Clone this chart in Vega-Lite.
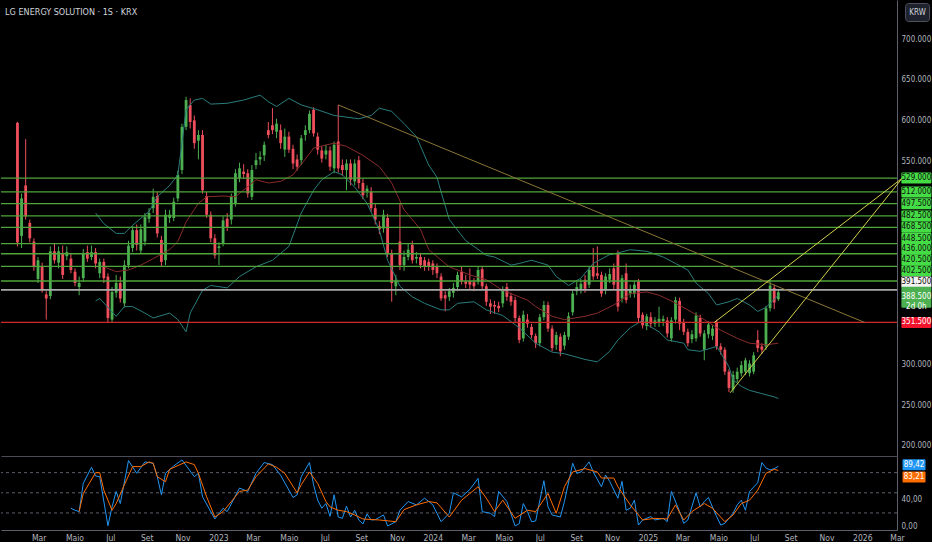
{
  "$schema": "https://vega.github.io/schema/vega-lite/v6.json",
  "background": "#000000",
  "padding": 0,
  "spacing": 0,
  "config": {
    "view": {"stroke": null},
    "axis": {"grid": false, "ticks": false, "labelColor": "#b2b5be", "labelFont": "Liberation Sans Narrow, DejaVu Sans Condensed, Roboto, sans-serif", "labelFontSize": 8, "labelFlush": false, "title": null}
  },
  "resolve": {"scale": {"x": "independent", "y": "independent"}},
  "datasets": {
    "w": [
      {"d":"2022-01-24","o":597,"h":598,"l":445,"c":450},
      {"d":"2022-01-31","o":458,"h":510,"l":443,"c":504},
      {"d":"2022-02-07","o":520,"h":577,"l":478,"c":482},
      {"d":"2022-02-14","o":474,"h":478,"l":450,"c":455},
      {"d":"2022-02-21","o":451,"h":455,"l":415,"c":420},
      {"d":"2022-02-28","o":405,"h":432,"l":400,"c":428},
      {"d":"2022-03-07","o":420,"h":425,"l":388,"c":391},
      {"d":"2022-03-14","o":386,"h":390,"l":355,"c":381},
      {"d":"2022-03-21","o":384,"h":445,"l":380,"c":439},
      {"d":"2022-03-28","o":439,"h":448,"l":424,"c":428},
      {"d":"2022-04-04","o":425,"h":445,"l":418,"c":439},
      {"d":"2022-04-11","o":437,"h":446,"l":405,"c":410},
      {"d":"2022-04-18","o":433,"h":445,"l":428,"c":438},
      {"d":"2022-04-25","o":430,"h":436,"l":412,"c":416,"k":27},
      {"d":"2022-05-02","o":414,"h":418,"l":396,"c":400,"k":24},
      {"d":"2022-05-09","o":395,"h":408,"l":385,"c":400,"k":22,"dd":22},
      {"d":"2022-05-16","o":406,"h":442,"l":402,"c":437,"k":64,"dd":49},
      {"d":"2022-05-23","o":438,"h":446,"l":426,"c":430},
      {"d":"2022-05-30","o":432,"h":446,"l":428,"c":438,"k":88},
      {"d":"2022-06-06","o":438,"h":443,"l":418,"c":424,"k":75,"dd":80,"u":486,"b":378},
      {"d":"2022-06-13","o":412,"h":430,"l":406,"c":426,"k":74,"dd":80,"b":381},
      {"d":"2022-06-20","o":426,"h":430,"l":400,"c":406,"dd":54,"u":473,"m":420},
      {"d":"2022-06-27","o":408,"h":412,"l":352,"c":357,"k":1},
      {"d":"2022-07-04","o":355,"h":395,"l":352,"c":389,"k":29,"dd":24},
      {"d":"2022-07-11","o":388,"h":410,"l":382,"c":400,"k":52,"dd":34,"u":461,"b":359,"m":414},
      {"d":"2022-07-18","o":400,"h":408,"l":376,"c":381,"k":34},
      {"d":"2022-07-25","o":375,"h":428,"l":370,"c":422,"dd":62,"u":461,"b":371},
      {"d":"2022-08-01","o":422,"h":452,"l":418,"c":446,"k":98,"m":416},
      {"d":"2022-08-08","o":443,"h":470,"l":438,"c":465,"dd":89,"u":471,"b":371},
      {"d":"2022-08-15","o":465,"h":472,"l":440,"c":447,"k":79},
      {"d":"2022-08-22","o":440,"h":472,"l":436,"c":466,"dd":89,"m":422},
      {"d":"2022-08-29","o":451,"h":486,"l":446,"c":481,"k":96,"b":363},
      {"d":"2022-09-05","o":479,"h":492,"l":474,"c":486,"dd":96,"u":488},
      {"d":"2022-09-12","o":492,"h":516,"l":486,"c":506,"k":94,"dd":94,"b":357,"m":430},
      {"d":"2022-09-19","o":507,"h":512,"l":456,"c":461,"k":74,"dd":74,"u":506},
      {"d":"2022-09-26","o":453,"h":458,"l":420,"c":426,"k":47},
      {"d":"2022-10-03","o":428,"h":490,"l":422,"c":484,"k":79,"dd":66.5},
      {"d":"2022-10-10","o":480,"h":490,"l":474,"c":484,"dd":85,"u":520,"b":363,"m":441},
      {"d":"2022-10-17","o":480,"h":505,"l":476,"c":500,"k":90},
      {"d":"2022-10-24","o":504,"h":538,"l":500,"c":533,"u":533,"b":355,"m":451},
      {"d":"2022-10-31","o":539,"h":596,"l":534,"c":592,"k":99,"u":572},
      {"d":"2022-11-07","o":592,"h":629,"l":588,"c":625,"dd":96,"u":613,"b":340,"m":475},
      {"d":"2022-11-14","o":619,"h":627,"l":590,"c":598,"b":363},
      {"d":"2022-11-21","o":600,"h":606,"l":565,"c":572,"k":74,"dd":92,"u":625},
      {"d":"2022-11-28","o":575,"h":588,"l":552,"c":582,"k":79,"dd":79,"m":498},
      {"d":"2022-12-05","o":582,"h":588,"l":510,"c":514,"k":44,"u":627,"b":391},
      {"d":"2022-12-12","o":507,"h":512,"l":480,"c":484,"dd":44,"m":506},
      {"d":"2022-12-19","o":484,"h":488,"l":450,"c":455,"u":620,"b":397},
      {"d":"2022-12-26","o":455,"h":460,"l":430,"c":434,"k":11,"dd":14},
      {"d":"2023-01-02","o":443,"h":450,"l":422,"c":445},
      {"d":"2023-01-09","o":449,"h":482,"l":445,"c":477,"k":27,"dd":22,"m":507},
      {"d":"2023-01-16","o":479,"h":486,"l":464,"c":469,"k":22,"u":621,"b":394},
      {"d":"2023-01-23","o":478,"h":510,"l":472,"c":506},
      {"d":"2023-01-30","o":498,"h":540,"l":494,"c":535,"m":506},
      {"d":"2023-02-06","o":529,"h":548,"l":524,"c":541,"k":57,"dd":52,"b":408},
      {"d":"2023-02-13","o":537,"h":546,"l":528,"c":534,"u":625},
      {"d":"2023-02-20","o":535,"h":540,"l":505,"c":510,"k":52,"dd":54},
      {"d":"2023-02-27","o":506,"h":545,"l":502,"c":539},
      {"d":"2023-03-06","o":545,"h":560,"l":540,"c":551,"k":79,"dd":74,"b":420,"m":527},
      {"d":"2023-03-13","o":552,"h":562,"l":545,"c":555,"u":631},
      {"d":"2023-03-20","o":557,"h":574,"l":550,"c":570,"k":95},
      {"d":"2023-03-27","o":588,"h":598,"l":578,"c":582,"dd":93,"u":623,"m":523},
      {"d":"2023-04-03","o":594,"h":615,"l":583,"c":588,"k":92,"b":428},
      {"d":"2023-04-10","o":586,"h":602,"l":578,"c":596,"dd":88,"u":617},
      {"d":"2023-04-17","o":588,"h":595,"l":565,"c":572,"k":76,"m":525},
      {"d":"2023-04-24","o":564,"h":590,"l":555,"c":580,"dd":79},
      {"d":"2023-05-01","o":580,"h":586,"l":560,"c":564,"u":627,"b":445},
      {"d":"2023-05-08","o":565,"h":570,"l":540,"c":547,"k":43,"m":533},
      {"d":"2023-05-15","o":552,"h":558,"l":538,"c":543,"k":47,"dd":50},
      {"d":"2023-05-22","o":551,"h":582,"l":545,"c":578,"k":74,"dd":62,"u":619,"b":486},
      {"d":"2023-05-29","o":582,"h":594,"l":575,"c":588},
      {"d":"2023-06-05","o":588,"h":612,"l":584,"c":608,"k":95,"dd":81,"m":559},
      {"d":"2023-06-12","o":613,"h":616,"l":580,"c":584,"k":62,"b":514,"m":566},
      {"d":"2023-06-19","o":580,"h":585,"l":558,"c":564,"k":39,"dd":64,"u":613},
      {"d":"2023-06-26","o":563,"h":568,"l":548,"c":553,"k":27,"b":527},
      {"d":"2023-07-03","o":558,"h":570,"l":552,"c":563,"k":34,"dd":37},
      {"d":"2023-07-10","o":563,"h":568,"l":538,"c":543,"k":15,"dd":29},
      {"d":"2023-07-17","o":541,"h":574,"l":535,"c":570,"k":47,"u":606,"b":537,"m":572},
      {"d":"2023-07-24","o":574,"h":619,"l":536,"c":541,"k":14,"dd":24},
      {"d":"2023-07-31","o":545,"h":552,"l":532,"c":539,"k":12,"b":533},
      {"d":"2023-08-07","o":539,"h":552,"l":514,"c":547,"k":30,"dd":22,"m":568},
      {"d":"2023-08-14","o":547,"h":552,"l":520,"c":527,"k":14},
      {"d":"2023-08-21","o":525,"h":552,"l":520,"c":547,"k":24,"dd":17,"b":518},
      {"d":"2023-08-28","o":551,"h":556,"l":516,"c":523,"k":9.5,"u":602},
      {"d":"2023-09-04","o":523,"h":528,"l":503,"c":508,"k":3.6,"dd":11,"m":557},
      {"d":"2023-09-11","o":513,"h":520,"l":505,"c":516,"k":18.5,"b":498},
      {"d":"2023-09-18","o":512,"h":518,"l":488,"c":492,"k":9.5,"u":606},
      {"d":"2023-09-25","o":492,"h":497,"l":472,"c":478,"k":10},
      {"d":"2023-10-02","o":470,"h":476,"l":460,"c":466,"dd":9.5,"u":615,"b":465,"m":543},
      {"d":"2023-10-09","o":467,"h":490,"l":462,"c":484,"k":17},
      {"d":"2023-10-16","o":480,"h":485,"l":432,"c":437,"k":0.6,"b":428},
      {"d":"2023-10-23","o":437,"h":441,"l":377,"c":400,"u":611,"m":523},
      {"d":"2023-10-30","o":396,"h":410,"l":385,"c":403,"k":7,"dd":7},
      {"d":"2023-11-06","o":451,"h":498,"l":416,"c":422,"k":24,"b":396},
      {"d":"2023-11-13","o":422,"h":440,"l":415,"c":432,"dd":25,"u":596,"m":490},
      {"d":"2023-11-20","o":432,"h":448,"l":428,"c":441,"k":37},
      {"d":"2023-11-27","o":447,"h":452,"l":424,"c":428,"b":383},
      {"d":"2023-12-04","o":430,"h":438,"l":424,"c":432,"k":32,"dd":32,"u":580},
      {"d":"2023-12-11","o":432,"h":437,"l":418,"c":422,"m":466},
      {"d":"2023-12-18","o":428,"h":432,"l":415,"c":420,"k":42,"b":375},
      {"d":"2023-12-25","o":426,"h":430,"l":415,"c":420,"dd":37,"u":545,"m":441},
      {"d":"2024-01-01","o":424,"h":428,"l":410,"c":416,"k":32},
      {"d":"2024-01-08","o":420,"h":424,"l":406,"c":412,"dd":35,"u":530},
      {"d":"2024-01-15","o":408,"h":412,"l":378,"c":381,"k":7,"u":512,"b":367},
      {"d":"2024-01-22","o":385,"h":390,"l":365,"c":381,"m":424},
      {"d":"2024-01-29","o":383,"h":394,"l":378,"c":390,"k":19.5,"dd":14,"u":478,"b":367,"m":420},
      {"d":"2024-02-05","o":388,"h":400,"l":382,"c":394,"k":50},
      {"d":"2024-02-12","o":395,"h":414,"l":390,"c":410,"b":375},
      {"d":"2024-02-19","o":414,"h":420,"l":398,"c":402,"k":44,"dd":39},
      {"d":"2024-02-26","o":402,"h":410,"l":394,"c":399,"u":452},
      {"d":"2024-03-04","o":402,"h":418,"l":392,"c":398,"k":55,"dd":49,"m":410},
      {"d":"2024-03-11","o":401,"h":406,"l":390,"c":396,"u":445,"b":377},
      {"d":"2024-03-18","o":402,"h":420,"l":398,"c":416,"k":71.5,"dd":59},
      {"d":"2024-03-25","o":417,"h":420,"l":392,"c":396,"k":22},
      {"d":"2024-04-01","o":396,"h":399,"l":372,"c":377,"dd":42,"u":434,"b":367,"m":404},
      {"d":"2024-04-08","o":375,"h":380,"l":362,"c":371,"k":19.5},
      {"d":"2024-04-15","o":373,"h":378,"l":362,"c":371,"k":14.6,"dd":22,"u":432},
      {"d":"2024-04-22","o":372,"h":377,"l":364,"c":369,"k":52},
      {"d":"2024-04-29","o":375,"h":396,"l":370,"c":391,"dd":39,"b":360,"m":391},
      {"d":"2024-05-06","o":395,"h":400,"l":378,"c":383,"k":37},
      {"d":"2024-05-13","o":384,"h":388,"l":372,"c":377,"u":422},
      {"d":"2024-05-20","o":379,"h":383,"l":352,"c":357,"k":0.6,"dd":12},
      {"d":"2024-05-27","o":357,"h":360,"l":326,"c":330,"k":4,"u":424,"b":345,"m":383},
      {"d":"2024-06-03","o":332,"h":366,"l":328,"c":361,"k":34},
      {"d":"2024-06-10","o":355,"h":362,"l":345,"c":350,"k":22,"dd":24,"m":379},
      {"d":"2024-06-17","o":346,"h":350,"l":332,"c":336,"k":7,"u":428},
      {"d":"2024-06-24","o":335,"h":338,"l":320,"c":326,"k":8,"dd":22,"b":326,"m":371},
      {"d":"2024-07-01","o":326,"h":362,"l":322,"c":358},
      {"d":"2024-07-08","o":358,"h":378,"l":354,"c":373,"k":68},
      {"d":"2024-07-15","o":373,"h":377,"l":340,"c":344,"k":29,"dd":49,"u":422},
      {"d":"2024-07-22","o":344,"h":348,"l":316,"c":320,"k":17,"b":315,"m":359},
      {"d":"2024-07-29","o":324,"h":340,"l":318,"c":336,"dd":19.5,"u":408},
      {"d":"2024-08-05","o":334,"h":338,"l":310,"c":316,"k":14},
      {"d":"2024-08-12","o":323,"h":340,"l":318,"c":336,"k":37,"dd":59,"b":313,"m":355},
      {"d":"2024-08-19","o":334,"h":364,"l":330,"c":359,"u":397},
      {"d":"2024-08-26","o":364,"h":392,"l":360,"c":387,"k":94,"dd":81},
      {"d":"2024-09-02","o":390,"h":402,"l":385,"c":395,"k":79},
      {"d":"2024-09-09","o":392,"h":405,"l":387,"c":399,"k":81,"u":406},
      {"d":"2024-09-16","o":404,"h":410,"l":388,"c":393,"dd":86,"b":306,"m":359},
      {"d":"2024-09-23","o":398,"h":420,"l":394,"c":416,"k":96},
      {"d":"2024-09-30","o":420,"h":443,"l":404,"c":408,"k":81,"u":424},
      {"d":"2024-10-07","o":412,"h":445,"l":405,"c":409,"dd":81,"b":303,"m":363},
      {"d":"2024-10-14","o":410,"h":414,"l":383,"c":387,"k":59,"dd":72},
      {"d":"2024-10-21","o":391,"h":412,"l":386,"c":408,"k":76.5},
      {"d":"2024-10-28","o":404,"h":418,"l":400,"c":411,"k":67,"u":435,"b":316},
      {"d":"2024-11-04","o":418,"h":424,"l":392,"c":398,"dd":72,"m":373},
      {"d":"2024-11-11","o":436,"h":440,"l":365,"c":371,"k":42,"dd":59,"u":437,"b":330},
      {"d":"2024-11-18","o":381,"h":410,"l":376,"c":406,"k":67},
      {"d":"2024-11-25","o":412,"h":424,"l":375,"c":379,"k":24},
      {"d":"2024-12-02","o":387,"h":398,"l":382,"c":392,"k":27,"dd":32,"u":441,"b":345,"m":387},
      {"d":"2024-12-09","o":387,"h":402,"l":382,"c":398,"k":39},
      {"d":"2024-12-16","o":402,"h":405,"l":352,"c":357,"k":2},
      {"d":"2024-12-23","o":361,"h":364,"l":344,"c":348,"k":9.5,"dd":9.5,"b":354},
      {"d":"2024-12-30","o":347,"h":362,"l":342,"c":359,"u":439,"b":349,"m":389},
      {"d":"2025-01-06","o":358,"h":364,"l":345,"c":350,"k":14.6},
      {"d":"2025-01-13","o":350,"h":358,"l":346,"c":354,"k":9.5,"dd":12},
      {"d":"2025-01-20","o":352,"h":371,"l":346,"c":356,"b":340,"m":385},
      {"d":"2025-01-27","o":353,"h":360,"l":347,"c":356,"k":12,"u":432},
      {"d":"2025-02-03","o":354,"h":358,"l":333,"c":338,"k":7,"dd":11,"b":330},
      {"d":"2025-02-10","o":332,"h":358,"l":328,"c":354,"k":52,"m":378},
      {"d":"2025-02-17","o":355,"h":383,"l":350,"c":379,"dd":32,"u":424},
      {"d":"2025-02-24","o":378,"h":382,"l":342,"c":350,"k":22},
      {"d":"2025-03-03","o":352,"h":356,"l":336,"c":340,"k":4.5,"dd":9.5,"b":326},
      {"d":"2025-03-10","o":340,"h":344,"l":322,"c":326,"k":9.5,"u":416,"b":318,"m":367},
      {"d":"2025-03-17","o":331,"h":342,"l":326,"c":337,"dd":22},
      {"d":"2025-03-24","o":332,"h":364,"l":328,"c":360,"k":50,"u":400},
      {"d":"2025-03-31","o":357,"h":361,"l":334,"c":338,"k":29,"b":316},
      {"d":"2025-04-07","o":318,"h":342,"l":305,"c":338,"k":37,"dd":34,"m":355},
      {"d":"2025-04-14","o":337,"h":353,"l":332,"c":349,"k":43,"u":387},
      {"d":"2025-04-21","o":335,"h":348,"l":330,"c":344,"dd":27},
      {"d":"2025-04-28","o":352,"h":355,"l":318,"c":322,"k":14.6,"u":373,"b":322},
      {"d":"2025-05-05","o":322,"h":326,"l":312,"c":318,"k":2,"b":314,"m":342},
      {"d":"2025-05-12","o":318,"h":321,"l":287,"c":291,"k":4.5,"dd":7},
      {"d":"2025-05-19","o":291,"h":294,"l":266,"c":271,"u":377,"b":297},
      {"d":"2025-05-26","o":269,"h":292,"l":265,"c":287,"k":19.5,"dd":17,"b":281},
      {"d":"2025-06-02","o":282,"h":296,"l":278,"c":291,"k":32,"u":381,"m":332},
      {"d":"2025-06-09","o":289,"h":304,"l":285,"c":299,"k":39,"dd":34,"b":273},
      {"d":"2025-06-16","o":291,"h":308,"l":287,"c":305,"k":24},
      {"d":"2025-06-23","o":289,"h":305,"l":285,"c":301,"k":52,"dd":39,"u":373,"b":268,"m":326},
      {"d":"2025-06-30","o":291,"h":315,"l":288,"c":311},
      {"d":"2025-07-07","o":330,"h":342,"l":315,"c":320,"k":65,"dd":54,"u":365},
      {"d":"2025-07-14","o":322,"h":326,"l":313,"c":318,"k":95,"b":264},
      {"d":"2025-07-21","o":322,"h":372,"l":318,"c":369,"k":87,"dd":79,"u":370,"m":324},
      {"d":"2025-07-28","o":369,"h":404,"l":365,"c":397,"k":84},
      {"d":"2025-08-04","o":394,"h":398,"l":368,"c":376,"k":86,"dd":85,"b":260},
      {"d":"2025-08-11","o":380,"h":392,"l":378,"c":388.5,"k":89.42,"dd":83.21,"u":385,"b":258,"m":326}
    ],
    "lv": [
      {"p":529,"k":"r"},{"p":512,"k":"r"},{"p":497.5,"k":"r"},{"p":482.5,"k":"r"},
      {"p":468.5,"k":"r"},{"p":448.5,"k":"r"},{"p":436,"k":"r"},{"p":420.5,"k":"r"},
      {"p":402.5,"k":"r"},{"p":391.5,"k":"w"},{"p":388.5,"k":"p"},{"p":351.5,"k":"s"}
    ],
    "tl": [
      {"g":"a","d":"2023-07-24","p":619},{"g":"a","d":"2026-01-05","p":351.5},
      {"g":"b","d":"2025-04-24","p":351.5},{"g":"b","d":"2026-03-10","p":529},
      {"g":"c","d":"2025-05-21","p":265},{"g":"c","d":"2026-03-10","p":529}
    ],
    "sb": [{"v":89.42,"s":"K","t":"89,42"},{"v":83.21,"s":"D","t":"83,21"}]
  },
  "vconcat": [
    {
      "width": 896,
      "height": 456,
      "layer": [
        {
          "data": {"name": "w"},
          "mark": {"type": "rule", "strokeWidth": 1},
          "encoding": {
            "x": {"field": "d", "type": "temporal", "scale": {"domain": [{"year":2021,"month":12,"date":27},{"year":2026,"month":3,"date":1}], "nice": false, "padding": 0}, "axis": {"labels": false, "ticks": false, "domainColor": "#4a4d57", "title": null}},
            "y": {"field": "l", "type": "quantitative", "scale": {"domain": [187.3, 748], "nice": false, "zero": false, "padding": 0}, "axis": {"orient": "right", "values": [200,225,250,275,300,325,550,575,600,625,650,675,700], "labelExpr": "format(datum.value, '.3f')", "domainColor": "#5d606b", "labelPadding": 4, "title": null}},
            "y2": {"field": "h"},
            "color": {"condition": {"test": "datum.c >= datum.o", "value": "#4caf50"}, "value": "#ef4f5c"}
          }
        },
        {
          "data": {"name": "w"},
          "mark": {"type": "bar", "width": 2.8, "opacity": 1},
          "encoding": {
            "x": {"field": "d", "type": "temporal", "scale": {"domain": [{"year":2021,"month":12,"date":27},{"year":2026,"month":3,"date":1}], "nice": false, "padding": 0}},
            "y": {"field": "o", "type": "quantitative", "scale": {"domain": [187.3, 748], "nice": false, "zero": false, "padding": 0}},
            "y2": {"field": "c"},
            "color": {"condition": {"test": "datum.c >= datum.o", "value": "#4caf50"}, "value": "#ef4f5c"}
          }
        },
        {
          "data": {"name": "w"},
          "transform": [{"filter": "isValid(datum.u)"}],
          "mark": {"type": "line", "strokeWidth": 1, "color": "#2a7d7d"},
          "encoding": {
            "x": {"field": "d", "type": "temporal", "scale": {"domain": [{"year":2021,"month":12,"date":27},{"year":2026,"month":3,"date":1}], "nice": false, "padding": 0}},
            "y": {"field": "u", "type": "quantitative", "scale": {"domain": [187.3, 748], "nice": false, "zero": false, "padding": 0}}
          }
        },
        {
          "data": {"name": "w"},
          "transform": [{"filter": "isValid(datum.b)"}],
          "mark": {"type": "line", "strokeWidth": 1, "color": "#2a7d7d"},
          "encoding": {
            "x": {"field": "d", "type": "temporal", "scale": {"domain": [{"year":2021,"month":12,"date":27},{"year":2026,"month":3,"date":1}], "nice": false, "padding": 0}},
            "y": {"field": "b", "type": "quantitative", "scale": {"domain": [187.3, 748], "nice": false, "zero": false, "padding": 0}}
          }
        },
        {
          "data": {"name": "w"},
          "transform": [{"filter": "isValid(datum.m)"}],
          "mark": {"type": "line", "strokeWidth": 1, "color": "#8a2b2b"},
          "encoding": {
            "x": {"field": "d", "type": "temporal", "scale": {"domain": [{"year":2021,"month":12,"date":27},{"year":2026,"month":3,"date":1}], "nice": false, "padding": 0}},
            "y": {"field": "m", "type": "quantitative", "scale": {"domain": [187.3, 748], "nice": false, "zero": false, "padding": 0}}
          }
        },
        {
          "data": {"name": "lv"},
          "transform": [{"filter": "datum.k != 'p'"}],
          "mark": {"type": "rule"},
          "encoding": {
            "y": {"field": "p", "type": "quantitative", "scale": {"domain": [187.3, 748], "nice": false, "zero": false, "padding": 0}},
            "color": {"field": "k", "type": "nominal", "scale": {"domain": ["r", "w", "s"], "range": ["#4fa63a", "#a9a9a9", "#cf2a2a"]}, "legend": null},
            "strokeWidth": {"condition": {"test": "datum.k == 'w'", "value": 1.8}, "value": 1.3}
          }
        },
        {
          "data": {"name": "tl"},
          "mark": {"type": "line", "strokeWidth": 1},
          "encoding": {
            "x": {"field": "d", "type": "temporal", "scale": {"domain": [{"year":2021,"month":12,"date":27},{"year":2026,"month":3,"date":1}], "nice": false, "padding": 0}},
            "y": {"field": "p", "type": "quantitative", "scale": {"domain": [187.3, 748], "nice": false, "zero": false, "padding": 0}},
            "detail": {"field": "g", "type": "nominal"},
            "color": {"condition": {"test": "datum.g == 'a'", "value": "#8a7636"}, "value": "#d4d04c"}
          }
        },
        {
          "data": {"name": "lv"},
          "transform": [{"filter": "datum.k != 'p'"}],
          "mark": {"type": "tick", "orient": "horizontal", "size": 30, "thickness": 11, "opacity": 1, "cornerRadius": 1,
                   "yOffset": {"expr": "datum.p == 448.5 ? -5 : datum.p == 436 ? -4.7 : datum.p == 420.5 ? -6.7 : datum.p == 402.5 ? -10.3 : datum.p == 391.5 ? -8 : 0"}},
          "encoding": {
            "x": {"datum": {"year":2026,"month":4,"date":3}, "type": "temporal", "scale": {"domain": [{"year":2021,"month":12,"date":27},{"year":2026,"month":3,"date":1}], "nice": false, "padding": 0}},
            "y": {"field": "p", "type": "quantitative", "scale": {"domain": [187.3, 748], "nice": false, "zero": false, "padding": 0}},
            "color": {"condition": [{"test": "datum.k == 'w'", "value": "#f2f2f2"}, {"test": "datum.k == 's'", "value": "#f0142c"}], "value": "#45dc45"}
          }
        },
        {
          "data": {"name": "lv"},
          "transform": [{"filter": "datum.k == 'p'"}],
          "mark": {"type": "tick", "orient": "horizontal", "size": 30, "thickness": 21, "opacity": 1, "cornerRadius": 1, "yOffset": 5},
          "encoding": {
            "x": {"datum": {"year":2026,"month":4,"date":3}, "type": "temporal", "scale": {"domain": [{"year":2021,"month":12,"date":27},{"year":2026,"month":3,"date":1}], "nice": false, "padding": 0}},
            "y": {"field": "p", "type": "quantitative", "scale": {"domain": [187.3, 748], "nice": false, "zero": false, "padding": 0}},
            "color": {"value": "#4caf50"}
          }
        },
        {
          "data": {"name": "lv"},
          "mark": {"type": "text", "align": "center", "baseline": "middle", "fontSize": 8, "lineHeight": 10, "font": "Liberation Sans Narrow, DejaVu Sans Condensed, Roboto, sans-serif",
                   "yOffset": {"expr": "datum.p == 448.5 ? -5 : datum.p == 436 ? -4.7 : datum.p == 420.5 ? -6.7 : datum.p == 402.5 ? -10.3 : datum.p == 391.5 ? -8 : datum.p == 388.5 ? 5 : 0"}},
          "encoding": {
            "x": {"datum": {"year":2026,"month":4,"date":3}, "type": "temporal", "scale": {"domain": [{"year":2021,"month":12,"date":27},{"year":2026,"month":3,"date":1}], "nice": false, "padding": 0}},
            "y": {"field": "p", "type": "quantitative", "scale": {"domain": [187.3, 748], "nice": false, "zero": false, "padding": 0}},
            "text": {"condition": {"test": "datum.k == 'p'", "value": ["388.500", "2d 0h"]}, "field": "p", "type": "quantitative", "format": ".3f"},
            "color": {"condition": [{"test": "datum.k == 'p' || datum.k == 's'", "value": "#ffffff"}], "value": "#0d0d0d"}
          }
        },
        {
          "data": {"values": [{"t": "KRW"}]},
          "mark": {"type": "tick", "orient": "horizontal", "size": 24, "thickness": 18, "opacity": 1, "cornerRadius": 3, "stroke": "#50535e", "strokeWidth": 1},
          "encoding": {
            "x": {"datum": {"year":2026,"month":4,"date":5}, "type": "temporal", "scale": {"domain": [{"year":2021,"month":12,"date":27},{"year":2026,"month":3,"date":1}], "nice": false, "padding": 0}},
            "y": {"datum": 732.6, "type": "quantitative", "scale": {"domain": [187.3, 748], "nice": false, "zero": false, "padding": 0}},
            "color": {"value": "#1e222d"}
          }
        },
        {
          "data": {"values": [{"t": "KRW"}]},
          "mark": {"type": "text", "align": "center", "baseline": "middle", "fontSize": 8, "color": "#d1d4dc", "font": "Liberation Sans Narrow, DejaVu Sans Condensed, Roboto, sans-serif"},
          "encoding": {
            "x": {"datum": {"year":2026,"month":4,"date":5}, "type": "temporal", "scale": {"domain": [{"year":2021,"month":12,"date":27},{"year":2026,"month":3,"date":1}], "nice": false, "padding": 0}},
            "y": {"datum": 732.6, "type": "quantitative", "scale": {"domain": [187.3, 748], "nice": false, "zero": false, "padding": 0}},
            "text": {"field": "t"}
          }
        },
        {
          "data": {"values": [{"t": "LG ENERGY SOLUTION · 1S · KRX"}]},
          "mark": {"type": "text", "align": "left", "baseline": "middle", "fontSize": 9, "color": "#d1d4dc", "font": "Liberation Sans Narrow, DejaVu Sans Condensed, Roboto, sans-serif"},
          "encoding": {
            "x": {"datum": {"year":2022,"month":1,"date":3}, "type": "temporal", "scale": {"domain": [{"year":2021,"month":12,"date":27},{"year":2026,"month":3,"date":1}], "nice": false, "padding": 0}},
            "y": {"datum": 733, "type": "quantitative", "scale": {"domain": [187.3, 748], "nice": false, "zero": false, "padding": 0}},
            "text": {"field": "t"}
          }
        }
      ]
    },
    {
      "width": 896,
      "height": 74,
      "layer": [
        {
          "data": {"values": [{"v": 80}, {"v": 50}, {"v": 20}]},
          "mark": {"type": "rule", "strokeDash": [3, 3], "strokeWidth": 1, "color": "#5d606b"},
          "encoding": {
            "y": {"field": "v", "type": "quantitative", "scale": {"domain": [-5.4, 104.8], "nice": false, "zero": false, "padding": 0}}
          }
        },
        {
          "data": {"name": "w"},
          "transform": [{"filter": "isValid(datum.k)"}],
          "mark": {"type": "line", "strokeWidth": 1, "color": "#2196f3"},
          "encoding": {
            "x": {"field": "d", "type": "temporal", "scale": {"domain": [{"year":2021,"month":12,"date":27},{"year":2026,"month":3,"date":1}], "nice": false, "padding": 0},
                  "axis": {"tickCount": {"interval": "month", "step": 2},
                    "labelExpr": "month(datum.value) == 0 ? (year(datum.value) == 2022 ? '' : timeFormat(datum.value, '%Y')) : ['Jan','Fev','Mar','Abr','Maio','Jun','Jul','Ago','Set','Out','Nov','Dez'][month(datum.value)]", "domainColor": "#5d606b", "labelPadding": 3, "labelFontSize": 8.5, "title": null}},
            "y": {"field": "k", "type": "quantitative", "scale": {"domain": [-5.4, 104.8], "nice": false, "zero": false, "padding": 0},
                  "axis": {"orient": "right", "values": [0, 40], "labelExpr": "replace(format(datum.value, '.2f'), '.', ',')", "domainColor": "#5d606b", "labelPadding": 4, "title": null}}
          }
        },
        {
          "data": {"name": "w"},
          "transform": [{"filter": "isValid(datum.dd)"}],
          "mark": {"type": "line", "strokeWidth": 1, "color": "#ff6d00"},
          "encoding": {
            "x": {"field": "d", "type": "temporal", "scale": {"domain": [{"year":2021,"month":12,"date":27},{"year":2026,"month":3,"date":1}], "nice": false, "padding": 0}},
            "y": {"field": "dd", "type": "quantitative", "scale": {"domain": [-5.4, 104.8], "nice": false, "zero": false, "padding": 0}}
          }
        },
        {
          "data": {"name": "sb"},
          "mark": {"type": "tick", "orient": "horizontal", "size": 23, "thickness": 11, "opacity": 1, "cornerRadius": 1,
                   "yOffset": {"expr": "datum.s == 'K' ? -1.6 : 6.5"}},
          "encoding": {
            "x": {"datum": {"year":2026,"month":3,"date":30}, "type": "temporal", "scale": {"domain": [{"year":2021,"month":12,"date":27},{"year":2026,"month":3,"date":1}], "nice": false, "padding": 0}},
            "y": {"field": "v", "type": "quantitative", "scale": {"domain": [-5.4, 104.8], "nice": false, "zero": false, "padding": 0}},
            "color": {"condition": {"test": "datum.s == 'K'", "value": "#2196f3"}, "value": "#ff6d00"}
          }
        },
        {
          "data": {"name": "sb"},
          "mark": {"type": "text", "align": "center", "baseline": "middle", "fontSize": 8, "color": "#ffffff", "font": "Liberation Sans Narrow, DejaVu Sans Condensed, Roboto, sans-serif",
                   "yOffset": {"expr": "datum.s == 'K' ? -1.6 : 6.5"}},
          "encoding": {
            "x": {"datum": {"year":2026,"month":3,"date":30}, "type": "temporal", "scale": {"domain": [{"year":2021,"month":12,"date":27},{"year":2026,"month":3,"date":1}], "nice": false, "padding": 0}},
            "y": {"field": "v", "type": "quantitative", "scale": {"domain": [-5.4, 104.8], "nice": false, "zero": false, "padding": 0}},
            "text": {"field": "t"}
          }
        }
      ]
    }
  ]
}
